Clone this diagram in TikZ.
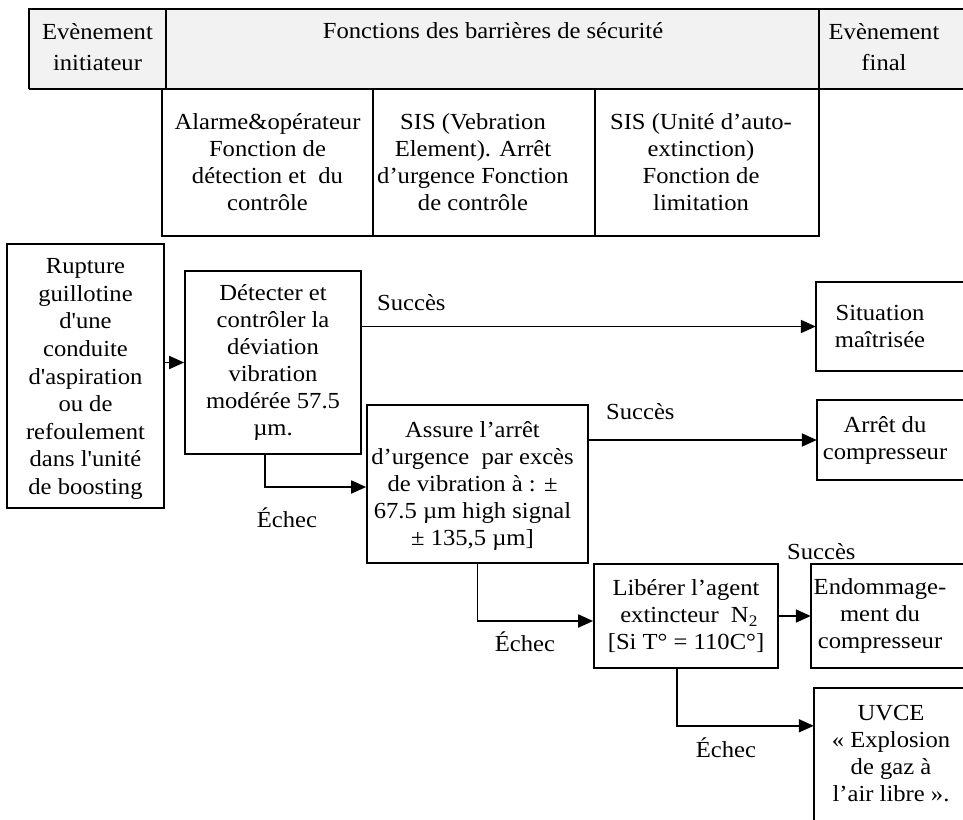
\documentclass[tikz,border=0pt]{standalone}
\usepackage{fontspec}
\setmainfont{Liberation Serif}[Ligatures=TeXOff, FakeStretch=1.07]
\usetikzlibrary{arrows.meta,calc}
\definecolor{hdrgray}{RGB}{242,242,242}
\tikzset{
  txt/.style={font=\fontsize{23}{27}\selectfont, align=center, inner sep=0pt},
  box/.style={txt, draw, line width=1.7pt},
  obox/.style={txt},
  edgeline/.style={line width=1.7pt},
  conn/.style={line width=1.8pt, -{Triangle[length=15pt,width=13pt]}},
  hdrline/.style={line width=1.6pt},
}
\begin{document}
\begin{tikzpicture}[x=1pt,y=-1pt]
\useasboundingbox (0,0) rectangle (963,819);
% header table
\fill[hdrgray] (29,9) rectangle (990,89);
\draw[hdrline] (990,9) -- (29,9) -- (29,89);
\draw[hdrline] (166,9) -- (166,89);
\draw[hdrline] (819,9) -- (819,89);
\draw[line width=2.6pt] (29,89) -- (166,89);
\draw[line width=2.6pt] (819,89) -- (990,89);
\node[txt, font=\fontsize{23}{31}\selectfont] (hL) at (97.5,47) {Evènement\\initiateur};
\node[txt] (hM) at (493,31) {Fonctions des barrières de sécurité};
\node[txt, font=\fontsize{23}{31}\selectfont] (hR) at (884,47) {Evènement\\final};
% sub-header
\node[box, minimum width=211pt, minimum height=147pt] (s1) at (267.5,162.5) {Alarme\&opérateur\\Fonction de\\détection et\ \ du\\contrôle};
\node[box, minimum width=222pt, minimum height=147pt,
      label={[txt, xshift=-11pt]center:{SIS (Vebration\\Element). Arrêt\\d’urgence Fonction\\de contrôle}}] (s2) at (484,162.5) {};
\node[box, minimum width=224pt, minimum height=147pt,
      label={[txt, xshift=-6pt]center:{SIS (Unité d’auto-\\extinction)\\Fonction de\\limitation}}] (s3) at (707,162.5) {};
% main boxes
\node[box, minimum width=157pt, minimum height=264pt,
      label={[txt, font=\fontsize{23}{27.6}\selectfont, yshift=-3pt]center:{Rupture\\guillotine\\d'une\\conduite\\d'aspiration\\ou de\\refoulement\\dans l'unité\\de boosting}}] (rup) at (85.5,376) {};
\node[box, minimum width=176pt, minimum height=183pt] (det) at (273,362.5) {Détecter et\\contrôler la\\déviation\\vibration\\modérée 57.5\\µm.};
\node[box, minimum width=221pt, minimum height=158pt,
      label={[txt, xshift=-5pt, yshift=-2pt]center:{Assure l’arrêt\\d’urgence\ \ par excès\\de vibration à : ±\\67.5 µm high signal\\± 135,5 µm]}}] (ass) at (477.5,484) {};
\node[box, minimum width=184pt, minimum height=104pt] (lib) at (686,616) {Libérer l’agent\\\ extincteur\ \ N\textsubscript{2}\\{[Si T° = 110C°]}};
% final event boxes (open to the right)
\node[obox, minimum width=128pt, minimum height=89pt] (sit) at (880,326.5) {Situation\\maîtrisée};
\node[obox, minimum width=136pt, minimum height=80pt] (arr) at (885,440) {Arrêt du\\compresseur};
\node[obox, minimum width=138pt, minimum height=104pt] (end) at (880,616) {Endommage-\\ment du\\compresseur};
\node[obox, minimum width=154pt, minimum height=132pt] (uvc) at (891,754) {UVCE\\« Explosion\\de gaz à\\l’air libre ».};
\foreach \n in {sit,arr,end}
  \draw[edgeline] ([xshift=200pt]\n.north west) -- (\n.north west) -- (\n.south west) -- ([xshift=200pt]\n.south west);
\draw[edgeline] ([xshift=200pt]uvc.north west) -- (uvc.north west) -- ([yshift=-40pt]uvc.south west);
% connectors
\draw[conn] (rup.east |- det.west) -- (det.west);
\draw[conn] (det.east |- sit.west) -- (sit.west);
\draw[conn] ([xshift=-8pt]det.south) |- ([yshift=-3pt]ass.west);
\draw[conn] (ass.east |- arr.west) -- (arr.west);
\draw[conn] (ass.south) |- ([yshift=-5pt]lib.west);
\draw[conn] (lib.east) -- (end.west);
\draw[conn] ([xshift=-9pt]lib.south) |- ([yshift=-38pt]uvc.north west);
% labels
\node[txt, anchor=west] (l1) at (377,303) {Succès};
\node[txt, anchor=west] (l2) at (606,412) {Succès};
\node[txt, anchor=west] (l3) at (787,552) {Succès};
\node[txt] (f1) at (287,518) {Échec};
\node[txt] (f2) at (525,642) {Échec};
\node[txt] (f3) at (726,748) {Échec};
\end{tikzpicture}
\end{document}
